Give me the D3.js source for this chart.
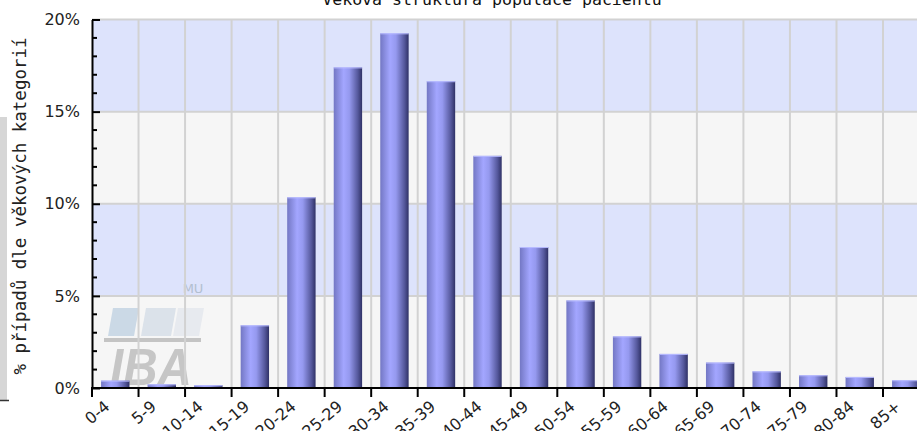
<!DOCTYPE html>
<html>
<head>
<meta charset="utf-8">
<script src="https://cdn.jsdelivr.net/npm/d3@7"></script>
<style>
  html, body { margin: 0; padding: 0; background: #fff; overflow: hidden; }
  svg { display: block; }
</style>
</head>
<body>
<div id="chart"></div>
<script>
const ageGroups = ["0-4","5-9","10-14","15-19","20-24","25-29","30-34","35-39","40-44",
  "45-49","50-54","55-59","60-64","65-69","70-74","75-79","80-84","85+"];
const sharePct = [0.4, 0.2, 0.15, 3.4, 10.35, 17.4, 19.25, 16.65, 12.6,
  7.65, 4.75, 2.8, 1.85, 1.38, 0.9, 0.69, 0.6, 0.42];
const yMajorTicks = [0, 5, 10, 15, 20];
const titleText = "Věková struktura populace pacientů";
const yLabelText = "% případů dle věkových kategorií";

const W = 917, H = 431;
const plotLeft = 92, plotTop = 19.5, plotBottom = 388;
const step = 46.53;

const svg = d3.select("#chart").append("svg")
  .attr("width", W)
  .attr("height", H);

const defs = svg.append("defs");
const grad = defs.append("linearGradient").attr("id", "barGrad")
  .attr("x1", "0%").attr("x2", "100%").attr("y1", "0%").attr("y2", "0%");
[["0%", "#7377c4"], ["35%", "#a3a6ff"], ["55%", "#9599ef"], ["85%", "#55589c"], ["100%", "#2f3166"]]
  .forEach(s => grad.append("stop").attr("offset", s[0]).attr("stop-color", s[1]));

const x = d3.scaleBand()
  .domain(ageGroups)
  .range([plotLeft, plotLeft + step * ageGroups.length])
  .padding(0);

const y = d3.scaleLinear()
  .domain([0, 20])
  .range([plotBottom, plotTop]);

// left strip (cropped page border)
svg.append("rect").attr("x", 0).attr("y", 117).attr("width", 7).attr("height", 283).attr("fill", "#d6d6d6");
svg.append("line").attr("x1", 0).attr("x2", 9).attr("y1", 400.5).attr("y2", 400.5)
  .attr("stroke", "#333").attr("stroke-width", 1.5);

// title (cropped at top)
svg.append("text")
  .attr("x", 492).attr("y", 5)
  .attr("text-anchor", "middle")
  .attr("font-family", "DejaVu Sans Mono")
  .attr("font-size", 16.6)
  .attr("fill", "#111")
  .text(titleText);

// background bands
const bandStarts = yMajorTicks.slice(0, -1);
svg.append("g").selectAll("rect")
  .data(bandStarts)
  .join("rect")
  .attr("x", plotLeft)
  .attr("width", W - plotLeft)
  .attr("y", d => y(d + 5))
  .attr("height", d => y(d) - y(d + 5))
  .attr("fill", (d, i) => i % 2 === 0 ? "#f6f6f6" : "#dde3fc");

// watermark
const wm = svg.append("g");
wm.append("text").attr("x", 193).attr("y", 293).attr("text-anchor", "middle")
  .attr("font-family", "DejaVu Sans").attr("font-size", 13).attr("fill", "#b3bfd0").text("MU");
[[113, 139, "#cbd9e6"], [146, 176, "#dbe2ea"], [178, 204, "#e7eaef"]].forEach(p => {
  wm.append("polygon")
    .attr("points", `${p[0]},308 ${p[1]},308 ${p[1] - 5},336 ${p[0] - 5},336`)
    .attr("fill", p[2]);
});
wm.append("rect").attr("x", 104).attr("y", 338).attr("width", 97).attr("height", 4).attr("fill", "#c4c4c4");
wm.append("text").attr("x", 110).attr("y", 385)
  .attr("font-family", "Liberation Sans").attr("font-weight", "bold").attr("font-style", "italic")
  .attr("font-size", 52).attr("textLength", 82).attr("lengthAdjust", "spacingAndGlyphs")
  .attr("fill", "#c6c6c6").text("IBA");

// grid lines
const bounds = ageGroups.map(d => x(d)).concat([x.range()[1]]);
svg.append("g").selectAll("line")
  .data(bounds.slice(1))
  .join("line")
  .attr("x1", d => d).attr("x2", d => d)
  .attr("y1", plotTop).attr("y2", plotBottom)
  .attr("stroke", "#d2d2d2").attr("stroke-width", 2);
svg.append("g").selectAll("line")
  .data(yMajorTicks.slice(1))
  .join("line")
  .attr("x1", plotLeft).attr("x2", W)
  .attr("y1", d => y(d)).attr("y2", d => y(d))
  .attr("stroke", "#d2d2d2").attr("stroke-width", 2);

// bars
const bw = x.bandwidth() * 0.61;
const bars = svg.append("g");
bars.selectAll("rect")
  .data(sharePct)
  .join("rect")
  .attr("x", (d, i) => x(ageGroups[i]) + (x.bandwidth() - bw) / 2)
  .attr("width", bw)
  .attr("y", d => y(d))
  .attr("height", d => y(0) - y(d))
  .attr("fill", "url(#barGrad)");
bars.selectAll("line")
  .data(sharePct)
  .join("line")
  .attr("x1", (d, i) => x(ageGroups[i]) + (x.bandwidth() - bw) / 2)
  .attr("x2", (d, i) => x(ageGroups[i]) + (x.bandwidth() + bw) / 2)
  .attr("y1", d => y(d) + 0.5).attr("y2", d => y(d) + 0.5)
  .attr("stroke", "#b8bbff").attr("stroke-width", 1);

// y axis
const yAxis = svg.append("g")
  .attr("transform", `translate(${plotLeft},0)`)
  .call(d3.axisLeft(y).tickValues(yMajorTicks).tickFormat(d => d + "%")
    .tickSizeInner(-8).tickSizeOuter(0).tickPadding(12));
yAxis.select(".domain").attr("stroke", "#000").attr("stroke-width", 2);
yAxis.selectAll(".tick line").attr("stroke", "#000").attr("stroke-width", 2);
yAxis.selectAll(".tick text")
  .attr("font-family", "DejaVu Sans").attr("font-size", 16).attr("fill", "#222");
svg.append("g").selectAll("line")
  .data(y.ticks(20).filter(t => t % 5 !== 0))
  .join("line")
  .attr("x1", plotLeft).attr("x2", plotLeft + 5)
  .attr("y1", d => y(d)).attr("y2", d => y(d))
  .attr("stroke", "#000").attr("stroke-width", 2);

// x axis
svg.append("line")
  .attr("x1", plotLeft - 1).attr("x2", W)
  .attr("y1", plotBottom).attr("y2", plotBottom)
  .attr("stroke", "#000").attr("stroke-width", 2);
svg.append("g").selectAll("line")
  .data(bounds)
  .join("line")
  .attr("x1", d => d).attr("x2", d => d)
  .attr("y1", plotBottom).attr("y2", plotBottom + 9)
  .attr("stroke", "#000").attr("stroke-width", 2);
svg.append("g").selectAll("text")
  .data(ageGroups)
  .join("text")
  .attr("transform", d => `translate(${x(d) + x.bandwidth() / 2 - 8},${plotBottom + 16}) rotate(-40)`)
  .attr("text-anchor", "end")
  .attr("font-family", "DejaVu Sans")
  .attr("font-size", 16)
  .attr("fill", "#222")
  .attr("dy", "0.35em")
  .text(d => d);

// y label
svg.append("text")
  .attr("transform", "translate(26,206) rotate(-90)")
  .attr("text-anchor", "middle")
  .attr("font-family", "DejaVu Sans Mono")
  .attr("font-size", 17.5)
  .attr("fill", "#222")
  .text(yLabelText);
</script>
</body>
</html>
